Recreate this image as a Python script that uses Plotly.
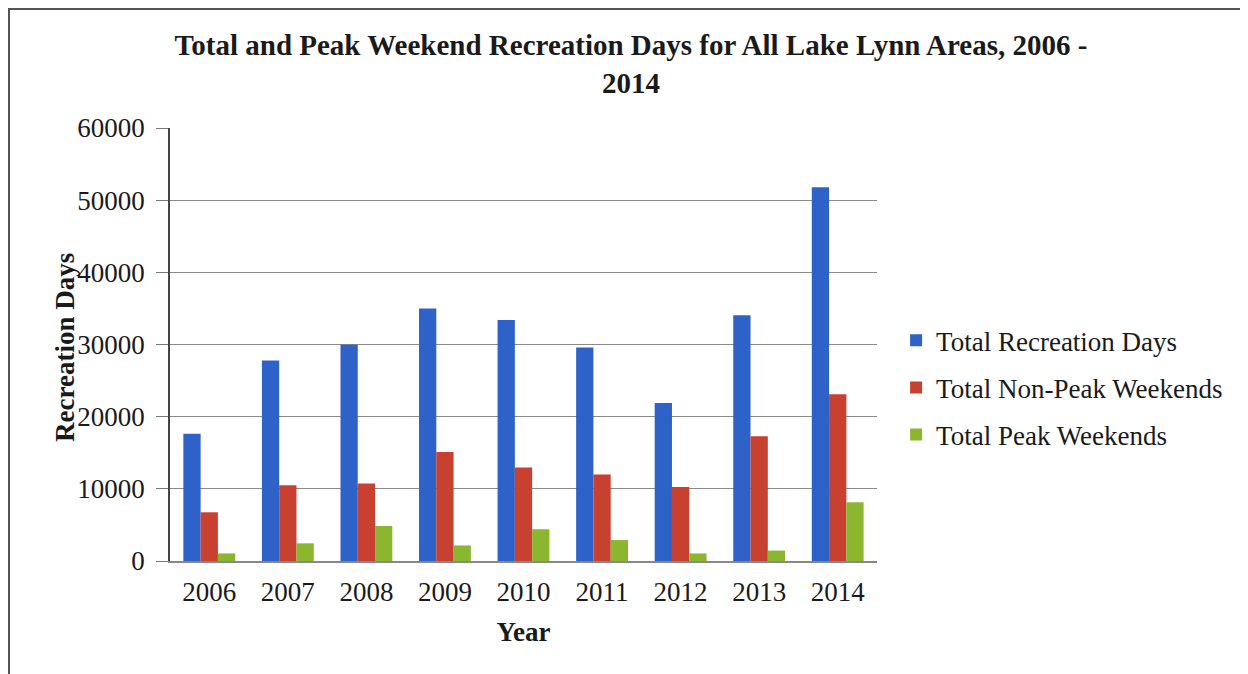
import plotly.graph_objects as go

years = ["2006", "2007", "2008", "2009", "2010", "2011", "2012", "2013", "2014"]
total_days = [17650, 27800, 29950, 35000, 33400, 29600, 21900, 34050, 51800]
non_peak = [6750, 10500, 10750, 15100, 12950, 12000, 10250, 17300, 23100]
peak = [1050, 2450, 4850, 2150, 4400, 2900, 1050, 1450, 8150]
series_names = ["Total Recreation Days", "Total Non-Peak Weekends", "Total Peak Weekends"]
colors = ["#2F62C8", "#C8402F", "#8BB62F"]

FONT = "Liberation Serif, Times New Roman, serif"

# figure is placed at an 8px page offset (default body margin)
W, H = 1240, 666
L, T, PW, PH = 162, 120, 707, 433
R, B = W - L - PW, H - T - PH

fig = go.Figure()
for i, (name, vals, c) in enumerate(zip(series_names, [total_days, non_peak, peak], colors)):
    fig.add_trace(go.Bar(x=years, y=vals, name=name, legendgroup=f"g{i}",
                         marker=dict(color=c, line=dict(width=0))))

fig.update_layout(
    width=W, height=H,
    paper_bgcolor="white", plot_bgcolor="white",
    margin=dict(l=L, r=R, t=T, b=B),
    barmode="group", bargap=0.34, bargroupgap=0,
    font=dict(family=FONT, color="#1a1a1a", size=27),
    title=dict(
        text="<b>Total and Peak Weekend Recreation Days for All Lake Lynn Areas, 2006 -<br>2014</b>",
        x=623 / W, xanchor="center", y=1 - 47 / H, yanchor="middle",
        font=dict(family=FONT, size=29, color="#1a1a1a"),
    ),
    legend=dict(
        x=1.027, xanchor="left", y=0.40, yanchor="middle",
        font=dict(family=FONT, size=27, color="#1a1a1a"),
        itemwidth=30, tracegroupgap=9, bgcolor="rgba(0,0,0,0)",
    ),
    xaxis=dict(
        title=dict(text="<b>Year</b>", font=dict(family=FONT, size=27), standoff=16),
        showline=True, linecolor="#888888", linewidth=1.5,
        ticks="", tickfont=dict(family=FONT, size=27), ticklabelstandoff=6,
        showgrid=False,
    ),
    yaxis=dict(
        range=[0, 60000], dtick=10000, tickformat="d",
        showline=True, linecolor="#444444", linewidth=1.5,
        ticks="outside", ticklen=12, tickcolor="#777777", tickwidth=1.3,
        ticklabelstandoff=6,
        showgrid=True, gridcolor="#8a8a8a", gridwidth=1.3,
        zeroline=False,
        tickfont=dict(family=FONT, size=27),
    ),
)

# y-axis title placed as in the reference (slightly overlapping the tick labels)
fig.add_annotation(text="<b>Recreation Days</b>", textangle=-90,
                   xref="paper", yref="paper", x=(57 - L) / PW, y=(T + PH - 340) / PH,
                   xanchor="center", yanchor="middle", showarrow=False,
                   font=dict(family=FONT, size=27, color="#1a1a1a"))

# outer chart frame
fig.add_shape(type="rect", xref="paper", yref="paper",
              x0=(1 - L) / PW, x1=(1236 - L) / PW,
              y0=-0.5, y1=(T + PH - 1) / PH,
              line=dict(color="#555555", width=2), fillcolor="rgba(0,0,0,0)", layer="below")

fig.write_html("out.html")
